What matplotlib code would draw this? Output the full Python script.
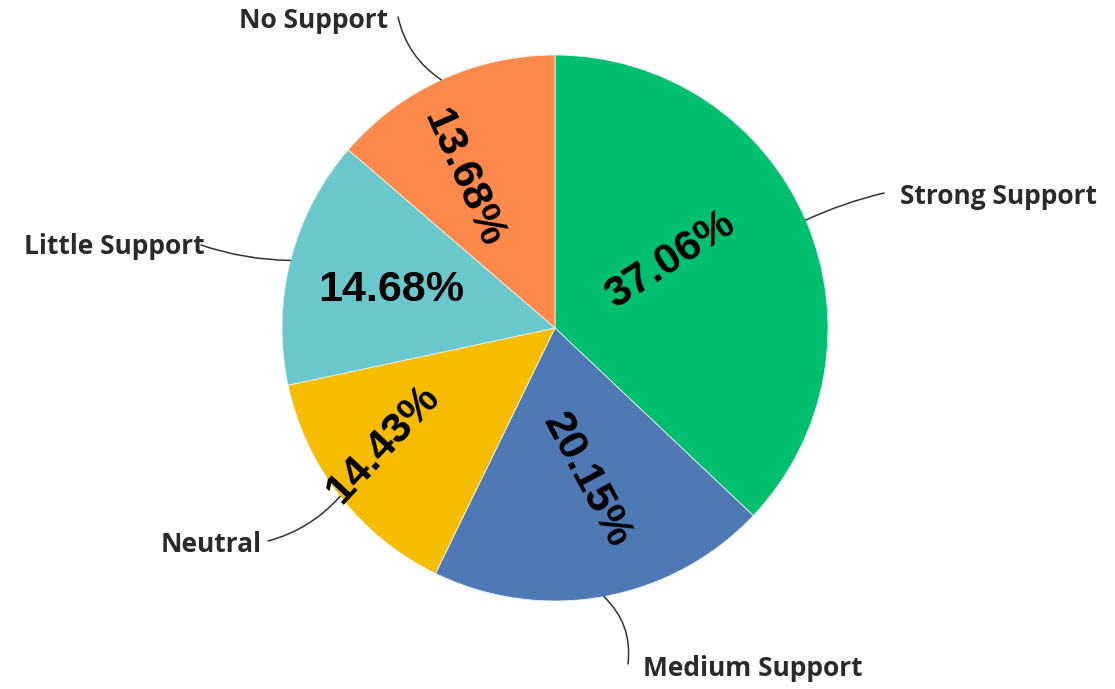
import matplotlib.pyplot as plt
import numpy as np

# ── data ────────────────────────────────────────────────
categories = ['Strong Support', 'Medium Support', 'Neutral', 'Little Support', 'No Support']
shares = [37.06, 20.15, 14.43, 14.68, 13.68]
pct_labels = ['37.06%', '20.15%', '14.43%', '14.68%', '13.68%']

# ── style / layout ──────────────────────────────────────
colors = ['#00BF6F', '#4F79B5', '#F6BD00', '#6AC7CB', '#FF894B']
W, H = 1115, 689
CX, CY, R = 555, H - 328, 273
pct_rot = [33, -62, 47, 0, -66]          # rotation of the % labels
pct_dang = [7, 1.5, -4, 1.3, 7]          # angle offset from wedge middle
pct_rfrac = [0.49, 0.57, 0.76, 0.615, 0.645]
# outer label text position (pixels, from top-left) and alignment
name_pos = [(900, 197, 'left'), (643, 668, 'left'), (262, 544, 'right'),
            (205, 246, 'right'), (388, 20, 'right')]
name_gap = [(-16, -4), (-15, -4), (6, -3), (-4, -1), (10, -3)]
rads = [0.05, 0.25, 0.15, 0.08, 0.2]

fig = plt.figure(figsize=(W / 100, H / 100), dpi=100)
ax = fig.add_axes([0, 0, 1, 1])

wedges, _ = ax.pie(shares, colors=colors, startangle=90, counterclock=False,
                   center=(CX, CY), radius=R,
                   wedgeprops=dict(edgecolor='#e8f4f0', linewidth=0.6))

for i, w in enumerate(wedges):
    mid = (w.theta1 + w.theta2) / 2
    a = np.deg2rad(mid + pct_dang[i])
    x = CX + pct_rfrac[i] * R * np.cos(a)
    y = CY + pct_rfrac[i] * R * np.sin(a)
    ax.text(x, y, pct_labels[i], rotation=pct_rot[i], rotation_mode='anchor',
            ha='center', va='center', fontsize=31, fontweight='bold',
            family='Liberation Sans', color='black')

    # outer category label with a curved leader line
    m = np.deg2rad(mid)
    ex, ey = CX + R * np.cos(m), CY + R * np.sin(m)
    tx, ty, ha = name_pos[i]
    gx, gy = name_gap[i]
    ax.text(tx, H - ty, categories[i], ha=ha, va='center', fontsize=19,
            fontweight='bold', family='Open Sans', color='#2a2a2a')
    ax.annotate('', xy=(ex, ey), xytext=(tx + gx, H - ty - gy),
                arrowprops=dict(arrowstyle='-', color='#333333', lw=1.1,
                                connectionstyle=f'arc3,rad={rads[i]}',
                                shrinkA=0, shrinkB=0))

ax.set_xlim(0, W)
ax.set_ylim(0, H)
ax.set_aspect('equal')
ax.axis('off')

plt.savefig('out.png', dpi=100, facecolor='white')
